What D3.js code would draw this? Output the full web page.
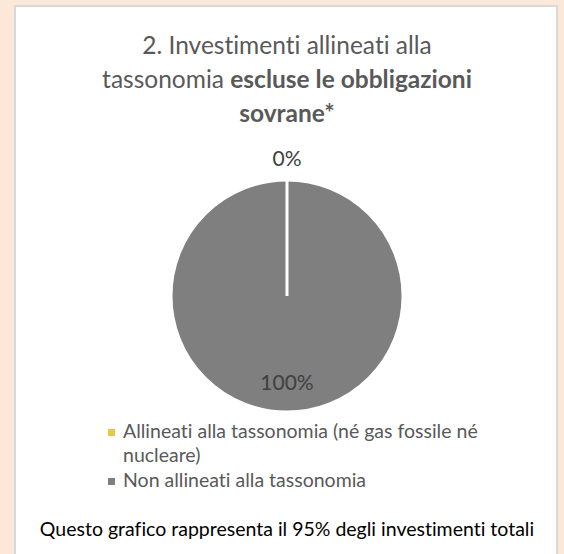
<!DOCTYPE html>
<html>
<head>
<meta charset="utf-8">
<script src="https://cdn.jsdelivr.net/npm/d3@7"></script>
<style>
  body { margin: 0; background: #fbe8d8; }
  svg { display: block; }
  text { font-family: Lato, "Open Sans", sans-serif; font-variant-ligatures: none; }
</style>
</head>
<body>
<div id="chart"></div>
<script>
const w = 564;
const h = 554;

// data
const categories = ["Allineati alla tassonomia (né gas fossile né nucleare)", "Non allineati alla tassonomia"];
const values = [0, 100];
const labels = ["0%", "100%"];
const colors = ["#e6ca47", "#7f7f7f"];
const legendLines = [["Allineati alla tassonomia (né gas fossile né", "nucleare)"], ["Non allineati alla tassonomia"]];
const footnote = "Questo grafico rappresenta il 95% degli investimenti totali";

const svg = d3.select("#chart").append("svg").attr("width", w).attr("height", h);

// panel
svg.append("rect").attr("x", 15).attr("y", 6).attr("width", 542).attr("height", h)
  .attr("fill", "#fff").attr("stroke", "#d9d9d9").attr("stroke-width", 2);

const cx = 287;

// title
const title = svg.append("text").attr("text-anchor", "middle").attr("fill", "#595959").attr("font-size", 24.5);
title.append("tspan").attr("x", cx).attr("y", 54).text("2. Investimenti allineati alla");
const t2 = title.append("tspan").attr("x", cx).attr("y", 88);
t2.append("tspan").text("tassonomia ");
t2.append("tspan").attr("font-weight", "bold").text("escluse le obbligazioni");
title.append("tspan").attr("x", cx).attr("y", 122).attr("font-weight", "bold").text("sovrane*");

// pie
const r = 116;
const cy = 296;
const pie = d3.pie().sort(null).value((d) => d);
const arc = d3.arc().innerRadius(0).outerRadius(r);
const arcs = pie(values);

const g = svg.append("g").attr("transform", "translate(" + cx + "," + cy + ")");
// big slice first, then the empty one so its white edge sits on top
g.selectAll("path")
  .data(arcs.slice().reverse())
  .enter()
  .append("path")
  .attr("d", arc)
  .attr("fill", (d) => colors[d.index])
  .attr("stroke", "#fff")
  .attr("stroke-width", 3);

// labels: 0% outside at top, 100% inside near the bottom
const outerArc = d3.arc().innerRadius(r + 21).outerRadius(r + 21);
const innerArc = d3.arc().innerRadius(r * 0.75).outerRadius(r * 0.75);
g.selectAll(".lbl")
  .data(arcs)
  .enter()
  .append("text")
  .attr("class", "lbl")
  .attr("text-anchor", "middle")
  .attr("dy", "0.35em")
  .attr("fill", "#404040")
  .attr("font-size", 21)
  .attr("transform", (d) => "translate(" + (d.value === 0 ? outerArc.centroid(d) : innerArc.centroid(d)) + ")")
  .text((d) => labels[d.index]);

// legend
const legendY = [438, 487];
categories.forEach((c, i) => {
  svg.append("rect").attr("x", 108).attr("y", legendY[i] - 9).attr("width", 7).attr("height", 7)
    .attr("fill", colors[i]);
  const t = svg.append("text").attr("fill", "#595959").attr("font-size", 19.5);
  legendLines[i].forEach((l, j) => {
    t.append("tspan").attr("x", 123).attr("y", legendY[i] + j * 24).text(l);
  });
});

// footnote
svg.append("text").attr("x", cx).attr("y", 536).attr("text-anchor", "middle")
  .attr("fill", "#000").attr("font-size", 19.5).text(footnote);
</script>
</body>
</html>
